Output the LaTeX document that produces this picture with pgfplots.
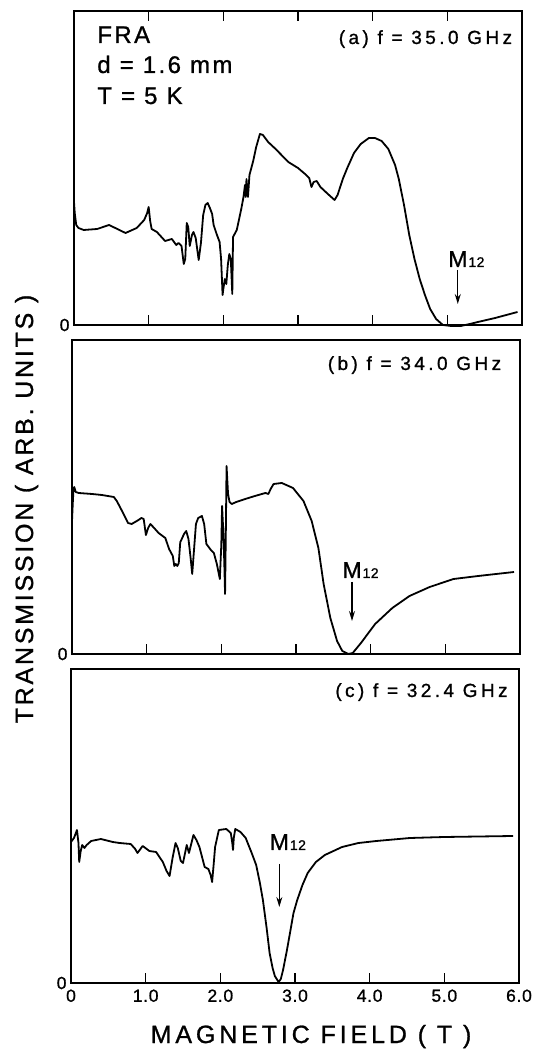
\documentclass[border=0pt]{standalone}
\usepackage{fontspec}
\setmainfont{Liberation Sans}
\usepackage{pgfplots}
\pgfplotsset{compat=1.18}
\usetikzlibrary{arrows.meta}
\newfontfamily\bigfont[LetterSpace=10, FakeBold=1]{Liberation Sans}
\newfontfamily\medfont[LetterSpace=18, FakeBold=1]{Liberation Sans}
\newfontfamily\tickfont[LetterSpace=4, FakeBold=1]{Liberation Sans}
\newfontfamily\ylabfont[LetterSpace=11, FakeBold=1]{Liberation Sans}
\newfontfamily\xlabfont[LetterSpace=15.5, FakeBold=1]{Liberation Sans}
\newfontfamily\mfont[LetterSpace=3, FakeBold=1]{Liberation Sans}
\newcommand{\bigtxt}{\fontsize{24}{28}\selectfont\bigfont}
\newcommand{\medtxt}{\fontsize{19}{22}\selectfont\medfont}
\newcommand{\ticktxt}{\fontsize{17.5}{20}\selectfont\tickfont}
\newcommand{\Mlab}{{\fontsize{23}{24}\selectfont\mfont M}\hspace{1pt}{\fontsize{14}{15}\selectfont\mfont 12}}

\pgfplotstableread{
x y
0.00 123
0.01 112
0.03 100
0.06 97
0.13 95
0.31 96
0.47 100
0.58 96
0.69 92
0.84 97
0.94 105
0.98 112
1.00 118
1.02 104
1.04 96
1.11 93
1.22 84
1.31 86
1.37 80
1.40 82
1.44 79
1.47 61
1.49 66
1.51 102
1.53 98
1.55 79
1.58 90
1.60 93
1.63 87
1.67 65
1.70 82
1.73 110
1.76 120
1.79 122
1.82 117
1.85 111
1.87 100
1.91 91
1.95 83
1.97 66
1.99 30
2.00 36
2.02 46
2.04 41
2.06 60
2.08 71
2.10 66
2.12 31
2.13 88
2.18 95
2.24 116
2.27 128
2.29 140
2.30 128
2.31 146
2.33 128
2.35 150
2.40 164
2.44 178
2.49 191
2.53 190
2.60 183
2.70 176
2.87 163
3.00 157
3.11 150
3.15 147
3.18 138
3.21 143
3.25 144
3.30 138
3.40 131
3.49 125
3.53 130
3.60 146
3.66 157
3.75 172
3.84 181
3.95 187
4.03 187
4.12 184
4.21 176
4.30 160
4.35 146
4.42 120
4.49 90
4.56 66
4.63 46
4.70 30
4.77 16
4.85 6
4.94 0
5.05 -1
5.18 -1
5.30 1
5.41 3
5.64 7
5.94 13
}\dataA

\pgfplotstableread{
x y
0.00 133
0.01 150
0.02 165
0.03 167
0.05 162
0.09 161
0.27 160
0.40 159
0.56 157
0.60 153
0.67 143
0.75 131
0.80 130
0.89 134
0.93 136
0.96 135
0.99 119
1.02 126
1.05 130
1.10 126
1.16 121
1.25 116
1.30 105
1.35 98
1.37 88
1.39 90
1.41 88
1.43 91
1.45 112
1.47 115
1.50 120
1.53 123
1.56 115
1.59 95
1.61 80
1.63 100
1.66 130
1.69 136
1.74 138
1.77 130
1.80 110
1.83 107
1.86 104
1.90 101
1.94 90
1.98 75
2.00 110
2.01 148
2.03 116
2.04 90
2.05 60
2.06 120
2.07 188
2.09 160
2.11 152
2.14 150
2.20 152
2.32 155
2.45 158
2.59 161
2.63 160
2.66 165
2.70 170
2.81 171
2.96 166
3.10 153
3.21 133
3.30 106
3.37 70
3.46 36
3.55 13
3.62 3
3.70 0
3.76 1
3.87 11
4.06 30
4.29 46
4.52 58
4.79 67
5.11 75
5.44 78
5.92 82
}\dataB

\pgfplotstableread{
x y
0.00 141
0.04 145
0.08 153
0.10 140
0.11 121
0.13 132
0.15 138
0.18 135
0.21 138
0.27 142
0.40 144
0.56 141
0.65 140
0.80 139
0.86 134
0.89 130
0.96 137
1.05 132
1.14 131
1.23 121
1.28 112
1.32 107
1.36 125
1.40 140
1.43 135
1.47 122
1.50 120
1.55 138
1.58 130
1.64 148
1.68 143
1.72 136
1.79 116
1.84 114
1.87 108
1.89 101
1.91 118
1.93 136
1.98 153
2.08 154
2.14 150
2.16 140
2.17 133
2.18 145
2.20 154
2.27 151
2.34 145
2.42 130
2.48 118
2.53 100
2.57 83
2.62 55
2.66 30
2.70 15
2.73 7
2.78 1
2.81 4
2.84 13
2.89 32
2.94 53
2.98 70
3.03 83
3.10 98
3.17 110
3.28 121
3.40 128
3.63 136
3.85 140
4.09 142
4.54 145
5.00 146
5.92 147
}\dataC

\pgfplotsset{
  panel/.style={
    at={#1}, anchor=origin,
    scale only axis, width=448pt, height=314pt,
    xmin=0, xmax=6, ymin=0, ymax=314,
    clip=false,
    axis line style={line width=1.5pt},
    tick align=inside, major tick length=10pt,
    xtick={1,2,3,4,5}, xticklabels={},
    xtick pos=bottom,
    xtick style={line width=1.2pt, black},
    ytick={0}, yticklabels={0},
    ytick style={draw=none},
    tick label style={font=\ticktxt},
    yticklabel style={xshift=-1pt},
    xticklabel style={yshift=-3pt},
  },
  curve/.style={black, line width=1.8pt, line join=round, no marks},
}
\tikzset{arr/.style={-{Stealth[length=10pt,width=6pt]}, line width=1.2pt}}

\begin{document}
\begin{tikzpicture}
\useasboundingbox (0pt,0pt) rectangle (539pt,1055pt);

% panel (a)
\begin{axis}[panel={(74pt,730pt)}, xtick pos=both]
\addplot[curve] table[x=x,y=y] {\dataA};
\node[anchor=base west, inner sep=0] at (axis cs:0.31,282) {\bigtxt FRA};
\node[anchor=base west, inner sep=0] at (axis cs:0.31,252) {\bigtxt d = 1.6 mm};
\node[anchor=base west, inner sep=0] at (axis cs:0.31,221) {\bigtxt T = 5 K};
\node[anchor=base east, inner sep=0] at (axis cs:5.87,281) {\medtxt (a) f = 35.0 GHz};
\draw[arr] (axis cs:5.14,55) -- (axis cs:5.14,21);
\node[anchor=base west, inner sep=0] at (axis cs:5.01,58) {\Mlab};
\end{axis}

% panel (b)
\begin{axis}[panel={(72pt,401pt)}]
\addplot[curve] table[x=x,y=y] {\dataB};
\node[anchor=base east, inner sep=0] at (axis cs:5.75,284) {\medtxt (b) f = 34.0 GHz};
\draw[arr] (axis cs:3.75,72) -- (axis cs:3.75,33);
\node[anchor=base west, inner sep=0] at (axis cs:3.62,76) {\Mlab};
\end{axis}

% panel (c)
\begin{axis}[panel={(71pt,72pt)}, xtick={0,1,2,3,4,5,6},
  xticklabels={0,1.0,2.0,3.0,4.0,5.0,6.0}]
\addplot[curve] table[x=x,y=y] {\dataC};
\node[anchor=base east, inner sep=0] at (axis cs:5.85,286) {\medtxt (c) f = 32.4 GHz};
\draw[arr] (axis cs:2.79,119) -- (axis cs:2.79,76);
\node[anchor=base west, inner sep=0] at (axis cs:2.66,133) {\Mlab};
\end{axis}

\node[rotate=90, anchor=base, inner sep=0, font=\fontsize{25}{28}\selectfont\ylabfont] at (33pt,546pt) {TRANSMISSION ( ARB. UNITS )};
\node[anchor=base, inner sep=0, font=\fontsize{25}{28}\selectfont\xlabfont] at (311pt,12pt) {MAGNETIC FIELD ( T )};
\end{tikzpicture}
\end{document}
